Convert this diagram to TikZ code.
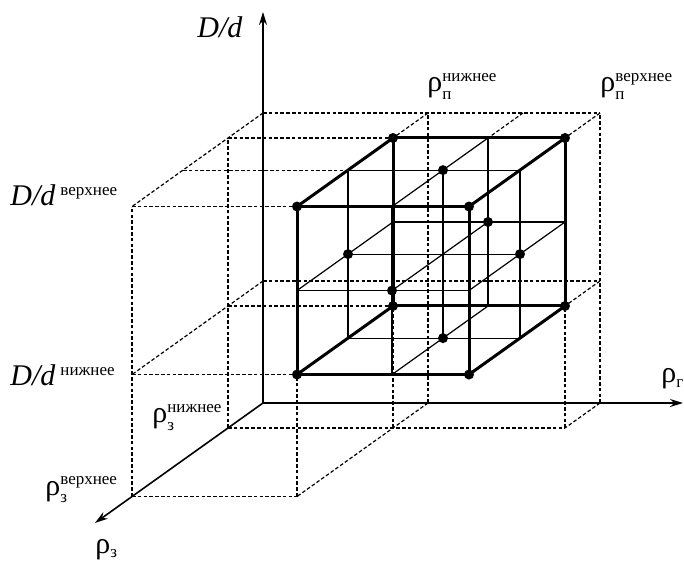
\documentclass[tikz,border=0pt]{standalone}
\usepackage{amsmath}
\usepackage{fontspec}
\setmainfont{Liberation Serif}
\usetikzlibrary{arrows.meta}
\DeclareMathSizes{15}{15}{8.5}{6}
\newcommand{\rhosub}[2]{ρ$_{\text{#1}}^{\text{#2}}$}
\tikzset{
  cedge/.style={line width=1.5pt,line join=round},
  cgrid/.style={line width=0.6pt},
  cproj/.style={line width=0.6pt,dash pattern=on 1.8pt off 1.1pt},
  caxis/.style={line width=0.8pt,-{Stealth[length=6.5pt,width=4pt]}},
  cdot/.style={circle,fill,inner sep=0pt,minimum size=5pt},
  clab/.style={anchor=base west,inner sep=0pt,font=\fontsize{15}{18}\selectfont}
}

\begin{document}
\begin{tikzpicture}[x={(0.5pt,0pt)},y={(0pt,0.5pt)},z={(-0.5pt,-0.357pt)}]
  \useasboundingbox (-263,-158) rectangle (421,403);
  % lattice points
  \foreach \i/\xx in {l/165,m/260,h/337}{
    \foreach \j/\yy in {l/122,m/206,h/290}{
      \foreach \k/\zz in {l/35,m/80,h/131}{
        \coordinate (p\i\j\k) at (\xx,\yy,\zz);
      }
    }
  }
  \coordinate (O) at (0,0,0);
  \coordinate (xend) at (420,0,0);
  \coordinate (yend) at (0,391,0);
  \coordinate (zend) at (0,0,168);
  % projections on the walls
  \draw[cproj] (0,290,0) -- (337,290,0);
  \draw[cproj] (0,122,0) -- (337,122,0);
  \draw[cproj] (165,0,0) -- (165,290,0);
  \draw[cproj] (337,0,0) -- (337,290,0);
  \draw[cproj] (0,290,0) -- (0,290,131);
  \draw[cproj] (0,122,0) -- (0,122,131);
  \draw[cproj] (0,0,35) -- (0,290,35);
  \draw[cproj] (0,0,131) -- (0,290,131);
  \draw[cproj] (0,0,35) -- (337,0,35);
  \draw[cproj] (0,0,131) -- (165,0,131);
  \draw[cproj] (165,0,0) -- (165,0,131);
  \draw[cproj] (337,0,0) -- (337,0,35);
  % from the box to the walls
  \draw[cproj] (0,290,35) -- (plhl);
  \draw[cproj] (0,290,80) -- (plhm);
  \draw[cproj] (0,290,131) -- (plhh);
  \draw[cproj] (0,122,35) -- (plll);
  \draw[cproj] (0,122,131) -- (pllh);
  \draw[cproj] (165,290,0) -- (plhl);
  \draw[cproj] (260,290,0) -- (pmhl);
  \draw[cproj] (337,290,0) -- (phhl);
  \draw[cproj] (337,122,0) -- (phll);
  \draw[cproj] (165,0,35) -- (plll);
  \draw[cproj] (165,0,131) -- (pllh);
  \draw[cproj] (337,0,35) -- (phll);
  % axes
  \draw[caxis] (O) -- (xend);
  \draw[caxis] (O) -- (yend);
  \draw[caxis] (O) -- (zend);
  % grid inside the box
  \foreach \a in {l,m,h}{
    \foreach \b in {l,m,h}{
      \draw[cgrid] (pl\a\b) -- (ph\a\b);
      \draw[cgrid] (p\a l\b) -- (p\a h\b);
      \draw[cgrid] (p\a\b l) -- (p\a\b h);
    }
  }
  % box edges
  \draw[cedge] (pllh) -- (phlh) -- (phhh) -- (plhh) -- cycle;
  \draw[cedge] (plll) -- (phll) -- (phhl) -- (plhl) -- cycle;
  \foreach \c in {ll,hl,hh,lh}{
    \draw[cedge] (p\c l) -- (p\c h);
  }
  % design points
  \foreach \p in {plll,phll,plhl,phhl,pllh,phlh,plhh,phhh,plmm,phmm,pmlm,pmhm,pmml,pmmh}{
    \node[cdot] at (\p) {};
  }
  % labels
  \node[clab] (dlab) at (-66,365) {\textit{D/d}};
  \node[clab] (rpl) at (164,311) {\rhosub{п}{нижнее}};
  \node[clab] (rph) at (337,311) {\rhosub{п}{верхнее}};
  \node[clab] (ddh) at (-253,197) {\textit{D/d}\,$^{\text{верхнее}}$};
  \node[clab] (ddl) at (-253,17) {\textit{D/d}\,$^{\text{нижнее}}$};
  \node[clab] (rzl) at (-111,-20) {\rhosub{з}{нижнее}};
  \node[clab] (rzh) at (-218,-92) {\rhosub{з}{верхнее}};
  \node[clab] (rz) at (-168,-150) {ρ$_{\text{з}}$};
  \node[clab] (rg) at (398,20) {ρ$_{\text{г}}$};
\end{tikzpicture}
\end{document}
